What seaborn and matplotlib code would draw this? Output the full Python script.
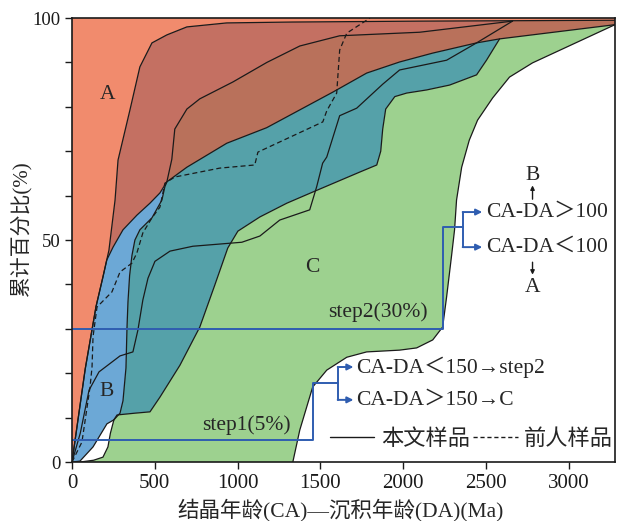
import numpy as np
import matplotlib
matplotlib.use('Agg')
import matplotlib.pyplot as plt
import seaborn as sns
from matplotlib.lines import Line2D

sns.set_theme(style='ticks')
plt.rcParams['font.family'] = ['Liberation Serif', 'Noto Sans CJK SC']
plt.rcParams['axes.unicode_minus'] = False

# boundary curves (x = CA-DA in Ma, y = cumulative %)
c1_x = [0, 36, 80, 145, 187, 223, 260, 278, 350, 410, 483, 573, 694, 935, 1334, 2100, 3280]
c1_y = [0, 9.5, 21, 35, 41.7, 47.7, 59, 68, 79.3, 89, 94.4, 96.2, 98, 98.9, 99.1, 99.3, 99.5]

c2_x = [0, 36, 80, 145, 187, 210, 248, 308, 392, 471, 531, 573, 694, 935, 1176, 1575, 1780, 1979, 2179, 2444, 2583, 3280]
c2_y = [0, 9.5, 21, 35, 41.7, 45.5, 48.4, 52.3, 55.6, 58.3, 60.6, 63.1, 66.4, 71.8, 75.3, 83.3, 87.6, 90.1, 92.1, 94.4, 95.3, 98.5]

c3_x = [0, 48, 127, 211, 253, 290, 308, 326, 332, 338, 348, 362, 380, 410, 483, 543, 561, 573, 603, 621, 694, 772, 972, 1177, 1376, 1617, 2100, 2661]
c3_y = [0, 0.2, 3.4, 8.6, 9.5, 11, 13.8, 21.2, 30, 36, 42, 46.5, 50, 52.3, 55, 59, 62, 63.1, 68.2, 75, 79.5, 81.8, 85.6, 90, 93.7, 96, 96.8, 99.3]

c4_x = [0, 50, 103, 163, 290, 368, 398, 428, 459, 501, 592, 730, 1026, 1135, 1255, 1436, 1478, 1514, 1539, 1617, 1720, 1877, 1979, 2263, 2444, 2661]
c4_y = [0, 6.5, 16.2, 20.3, 23.9, 24.8, 29.7, 36.5, 41.4, 45.2, 47.5, 48.6, 49.5, 50.9, 54.5, 56.8, 62, 67.3, 68.7, 78, 79.7, 85.1, 88.3, 90.5, 94.4, 99.3]

c5_x = [253, 272, 380, 471, 531, 652, 772, 863, 941, 1002, 1135, 1298, 1454, 1738, 1841, 1865, 1877, 1895, 1950, 2022, 2142, 2281, 2444, 2504, 2583]
c5_y = [9.5, 10.6, 11, 11.3, 14.6, 21.8, 30.4, 39.9, 48.2, 52, 55.2, 58.3, 60.8, 65.3, 66.9, 70, 75, 79.5, 82.3, 83.1, 83.8, 84.9, 87.2, 90.5, 95.3]

c6_x = [1334, 1376, 1454, 1539, 1660, 1780, 1979, 2082, 2179, 2239, 2263, 2293, 2311, 2323, 2354, 2400, 2450, 2541, 2643, 2782, 3280]
c6_y = [0, 7.2, 16.9, 20.7, 23.6, 24.8, 25.2, 25.7, 27.5, 30.4, 37.2, 46.5, 52.3, 59, 66.4, 72.5, 77, 82, 86.7, 89.9, 98.5]

n_x = [48, 130, 187, 217, 232, 253]
n_y = [0, 0.4, 1.1, 3.4, 6.5, 9.5]

# dashed curve (previous samples)
d_x = [0, 60, 109, 121, 127, 151, 241, 290, 362, 392, 428, 483, 531, 549, 561, 622, 893, 1104, 1123, 1515, 1539, 1599, 1617, 1660, 1800]
d_y = [0, 4.5, 16.9, 21.4, 28.2, 34.9, 38.3, 42.8, 44.8, 47.1, 51.6, 55, 57.4, 60.6, 62.8, 64.2, 66.2, 66.9, 69.8, 76.6, 79.1, 83.1, 92.8, 96.6, 100]

# step thresholds
step1_y, step2_y = 5, 30

ORANGE = '#F18B6D'
REDBROWN = '#C47062'
BROWN = '#B9715B'
TEAL = '#55A1A9'
BLUE = '#6CA8D6'
GREEN = '#9DD18F'
LINEBLUE = '#2F5DB0'

fig = plt.figure(figsize=(6.17, 5.21), dpi=100)
ax = fig.add_axes([0.1167, 0.1132, 0.880, 0.8522])

k2 = c2_x.index(573)
k3 = c3_x.index(573)
kn = c3_x.index(253)
ke = c2_x.index(2583)

# filled regions
ax.fill(c1_x + [3280, 0], c1_y + [100, 100], color=ORANGE, lw=0, zorder=1)
ax.fill(c1_x + c2_x[::-1], c1_y + c2_y[::-1], color=REDBROWN, lw=0, zorder=1)
ax.fill(c3_x[k3:] + [c1_x[-1]] + c2_x[k2:][::-1], c3_y[k3:] + [c1_y[-1]] + c2_y[k2:][::-1],
        color=BROWN, lw=0, zorder=1)
ax.fill(c2_x[:k2 + 1] + c3_x[:k3 + 1][::-1], c2_y[:k2 + 1] + c3_y[:k3 + 1][::-1],
        color=BLUE, lw=0, zorder=1)
ax.fill(c3_x[kn:k3 + 1] + c2_x[k2 + 1:ke] + c5_x[::-1], c3_y[kn:k3 + 1] + c2_y[k2 + 1:ke] + c5_y[::-1],
        color=TEAL, lw=0, zorder=1)
ax.fill(c5_x + c2_x[ke + 1:] + c6_x[::-1] + n_x, c5_y + c2_y[ke + 1:] + c6_y[::-1] + n_y,
        color=GREEN, lw=0, zorder=1)

# boundary lines
for cx, cy in [(c1_x, c1_y), (c2_x, c2_y), (c3_x, c3_y), (c4_x, c4_y),
               (c5_x, c5_y), (c6_x, c6_y), (n_x, n_y)]:
    sns.lineplot(x=cx, y=cy, sort=False, estimator=None, color='k', lw=0.9, ax=ax, zorder=3)
sns.lineplot(x=d_x, y=d_y, sort=False, estimator=None, color='k', lw=0.9, ls=(0, (4, 2.5)), ax=ax, zorder=3)

# step guide lines
arrow = dict(arrowstyle='-|>', color=LINEBLUE, lw=1.4, mutation_scale=9, shrinkA=0, shrinkB=0)
ax.plot([0, 1454, 1454, 1605], [step1_y, step1_y, 17.8, 17.8], color=LINEBLUE, lw=1.4, zorder=4)
ax.plot([1605, 1605], [14.0, 21.4], color=LINEBLUE, lw=1.4, zorder=4)
ax.annotate('', xy=(1700, 21.4), xytext=(1605, 21.4), arrowprops=arrow, zorder=4)
ax.annotate('', xy=(1700, 14.0), xytext=(1605, 14.0), arrowprops=arrow, zorder=4)

ax.plot([0, 2239, 2239, 2360], [step2_y, step2_y, 53, 53], color=LINEBLUE, lw=1.4, zorder=4)
ax.plot([2360, 2360], [48.4, 56.3], color=LINEBLUE, lw=1.4, zorder=4)
ax.annotate('', xy=(2478, 56.3), xytext=(2360, 56.3), arrowprops=arrow, zorder=4)
ax.annotate('', xy=(2478, 48.4), xytext=(2360, 48.4), arrowprops=arrow, zorder=4)

# texts
fs = 15.5
ax.text(217, 82.7, 'A', fontsize=15.5, ha='center', va='center', zorder=5)
ax.text(211, 15.8, 'B', fontsize=15.5, ha='center', va='center', zorder=5)
ax.text(1454, 43.7, 'C', fontsize=15.5, ha='center', va='center', zorder=5)
ax.text(1545, 33.8, 'step2(30%)', fontsize=fs, ha='left', va='center', zorder=5)
ax.text(785, 8.3, 'step1(5%)', fontsize=fs, ha='left', va='center', zorder=5)
ax.text(1715, 21.4, 'CA-DA＜150→step2', fontsize=fs, ha='left', va='center', zorder=5)
ax.text(1715, 14.0, 'CA-DA＞150→C', fontsize=fs, ha='left', va='center', zorder=5)
ax.text(2500, 56.3, 'CA-DA＞100', fontsize=fs, ha='left', va='center', zorder=5)
ax.text(2500, 48.4, 'CA-DA＜100', fontsize=fs, ha='left', va='center', zorder=5)
ax.text(2782, 64.5, 'B', fontsize=fs, ha='center', va='center', zorder=5)
ax.text(2782, 39.2, 'A', fontsize=fs, ha='center', va='center', zorder=5)
small = dict(arrowstyle='-|>', color='k', lw=1.0, mutation_scale=6, shrinkA=0, shrinkB=0)
ax.annotate('', xy=(2782, 62.3), xytext=(2782, 59.2), arrowprops=small, zorder=5)
ax.annotate('', xy=(2782, 42.2), xytext=(2782, 45.0), arrowprops=small, zorder=5)

# legend
handles = [Line2D([], [], color='k', lw=1.0), Line2D([], [], color='k', lw=1.0, ls=(0, (3, 2)))]
ax.legend(handles, ['本文样品', '前人样品'], ncol=2, frameon=False, fontsize=16,
          loc='center right', bbox_to_anchor=(0.997, 0.05), handlelength=2.0, handletextpad=0.3,
          columnspacing=0.15, borderaxespad=0, borderpad=0)

ax.set_xlim(0, 3280)
ax.set_ylim(0, 100)
ax.set_xticks(np.arange(0, 3001, 500))
ax.set_yticks(np.arange(0, 101, 10))
ax.set_yticklabels(['0', '', '', '', '', '50', '', '', '', '', '100'])
ax.tick_params(axis='both', direction='out', length=5, width=1, colors='k')
ax.tick_params(axis='x', labelsize=15)
ax.tick_params(axis='y', labelsize=13.5)
for s in ax.spines.values():
    s.set_color('k')
    s.set_linewidth(1.2)
    s.set_zorder(6)

ax.set_xlabel('结晶年龄(CA)—沉积年龄(DA)(Ma)', fontsize=15.5)
ax.set_ylabel('累计百分比(%)', fontsize=15)
ax.xaxis.set_label_coords(0.495, -0.082)
ax.yaxis.set_label_coords(-0.075, 0.527)

fig.savefig('out.png', dpi=100)
